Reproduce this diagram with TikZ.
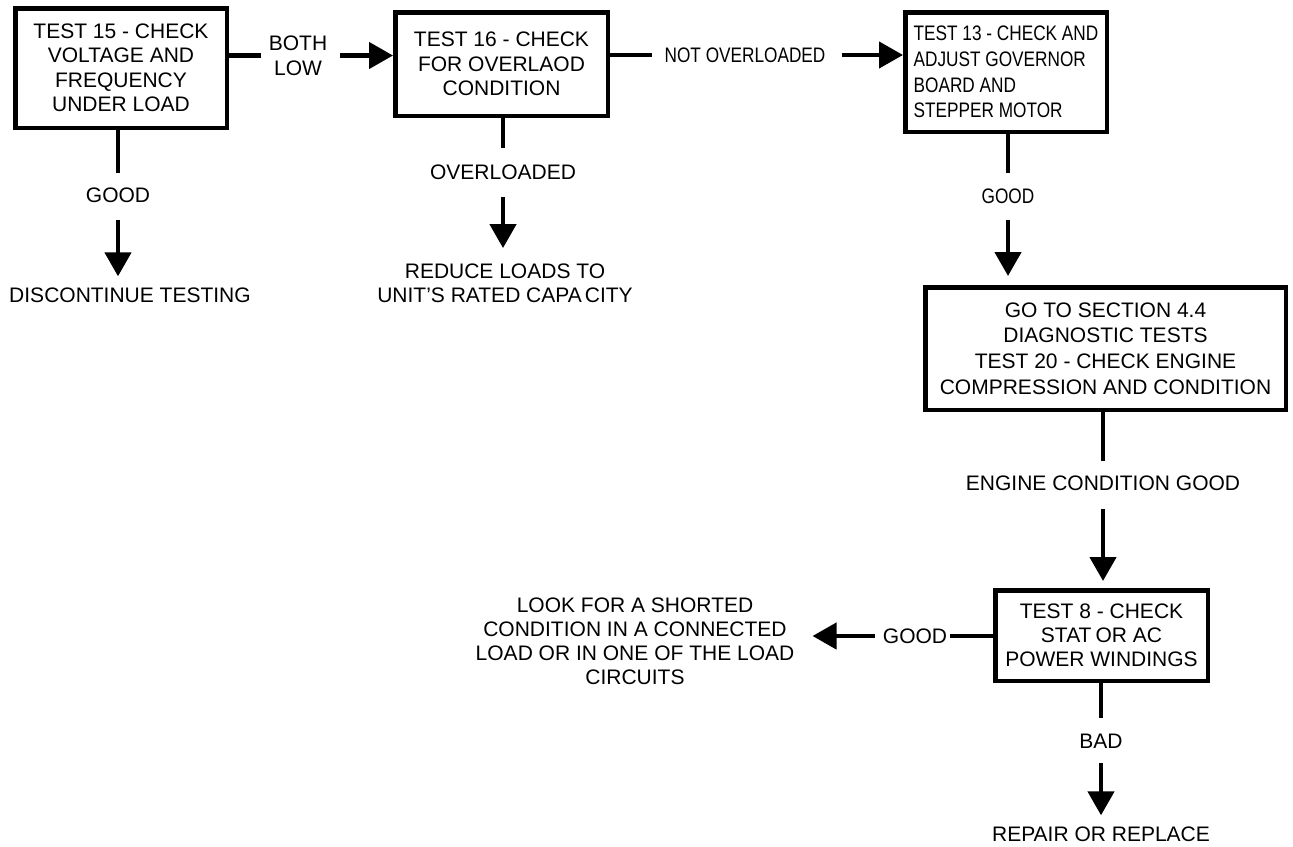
\documentclass[tikz,border=0pt]{standalone}
\usepackage{fontspec}
\setmainfont{Liberation Sans}
\newfontfamily\narrowfont[FakeStretch=0.82]{Liberation Sans}
\usetikzlibrary{arrows.meta}
\newcommand\myfs{\fontsize{21}{24.5}\selectfont}
\newcommand\myfsw{\fontsize{21}{25.7}\selectfont}
\begin{document}
\begin{tikzpicture}[x=1pt,y=-1pt,line width=4.5pt,
  box/.style={draw,line width=4.5pt,inner sep=0pt,align=center,font=\myfs},
  lbl/.style={inner sep=0pt,align=center,font=\myfs},
  arr/.style={-{Triangle[length=24pt,width=26pt]}}]
\useasboundingbox (0,0) rectangle (1293,846);
% boxes
\node[box,minimum width=211.5pt,minimum height=119.5pt] (b1) at (121,68)
  {TEST 15 - CHECK\\VOLTAGE AND\\FREQUENCY\\UNDER LOAD};
\node[box,minimum width=212.5pt,minimum height=103.5pt] (b2) at (501.5,64)
  {TEST 16 - CHECK\\FOR OVERLAOD\\CONDITION};
\node[box,align=left,font=\narrowfont\myfsw,minimum width=201.5pt,minimum height=119.5pt] (b3) at (1006,72)
  {TEST 13 - CHECK AND\\ADJUST GOVERNOR\\BOARD AND\\STEPPER MOTOR};
\node[box,font=\myfsw,minimum width=360.5pt,minimum height=122.5pt] (b4) at (1105.5,348.5)
  {GO TO SECTION 4.4\\DIAGNOSTIC TESTS\\TEST 20 - CHECK ENGINE\\COMPRESSION AND CONDITION};
\node[box,font=\fontsize{21}{24}\selectfont,minimum width=212.5pt,minimum height=90.5pt] (b5) at (1101.5,635.5)
  {TEST 8 - CHECK\\STAT\kern4pt OR AC\\POWER WINDINGS};
% labels
\node[lbl,font=\fontsize{21}{25}\selectfont] (bl) at (298,55.5) {BOTH\\LOW};
\node[lbl,font=\narrowfont\myfs] (no) at (745,55) {NOT OVERLOADED};
\node[lbl] (g1) at (118,195) {GOOD};
\node[lbl] (dt) at (130,295) {DISCONTINUE TESTING};
\node[lbl] (ol) at (503,172) {OVERLOADED};
\node[lbl,font=\fontsize{21}{23.5}\selectfont] (rl) at (505,283.5) {REDUCE LOADS TO\\UNIT’S RATED CAPA\kern3pt CITY};
\node[lbl,font=\narrowfont\myfs] (g3) at (1008,196) {GOOD};
\node[lbl] (ec) at (1103,483) {ENGINE CONDITION GOOD};
\node[lbl] (g5) at (915,636) {GOOD};
\node[lbl,font=\fontsize{21}{24}\selectfont] (lf) at (635,641)
  {LOOK FOR A SHORTED\\CONDITION IN A CONNECTED\\LOAD OR IN ONE OF THE LOAD\\CIRCUITS};
\node[lbl] (bad) at (1101,741) {BAD};
\node[lbl] (rr) at (1101,834) {REPAIR OR REPLACE};
% connectors
\draw[shorten >=6pt] (b1.east |- bl.west) -- (bl.west);
\draw[arr,shorten <=11pt] (bl.east) -- (b2.west |- bl.east);
\draw[shorten >=10pt] (b2.east |- no.west) -- (no.west);
\draw[arr,shorten <=14pt] (no.east) -- (b3.west |- no.east);
\draw[shorten >=12pt] (b1.south -| g1.north) -- (g1.north);
\draw[arr,shorten <=15pt,shorten >=9pt] (g1.south) -- (g1.south |- dt.north);
\draw[shorten >=14pt] (b2.south -| ol.north) -- (ol.north);
\draw[arr,shorten <=15pt,shorten >=14pt] (ol.south) -- (ol.south |- rl.north);
\draw[shorten >=13pt] (b3.south -| g3.north) -- (g3.north);
\draw[arr,shorten <=14pt,shorten >=9pt] (g3.south) -- (g3.south |- b4.north);
\draw[shorten >=12pt] (b4.south -| ec.north) -- (ec.north);
\draw[arr,shorten <=16pt,shorten >=7pt] (ec.south) -- (ec.south |- b5.north);
\draw[shorten >=14pt] (b5.south -| bad.north) -- (bad.north);
\draw[arr,shorten <=13pt,shorten >=9pt] (bad.south) -- (bad.south |- rr.north);
\draw[shorten >=1pt] (b5.west |- g5.east) -- (g5.east);
\draw[arr,shorten <=6pt,shorten >=16pt] (g5.west) -- (g5.west -| lf.east);
\end{tikzpicture}
\end{document}
